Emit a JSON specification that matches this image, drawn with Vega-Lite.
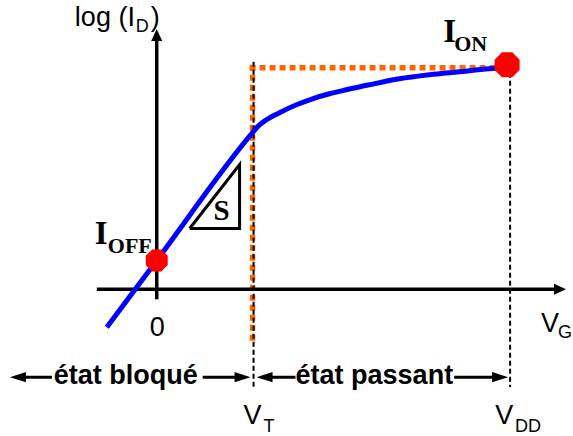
{
  "$schema": "https://vega.github.io/schema/vega-lite/v6.json",
  "autosize": {"type": "fit", "contains": "padding"},
  "width": 573,
  "height": 436,
  "padding": 0,
  "background": "white",
  "config": {"view": {"stroke": null}},
  "datasets": {
    "axes": [
      {"x": -60, "y": 0, "x2": 400, "y2": 0},
      {"x": 0, "y": -10, "x2": 0, "y2": 252}
    ],
    "axisHeads": [
      {"x": 404, "y": 0, "dir": "axis-right"},
      {"x": 0, "y": 255, "dir": "axis-up"}
    ],
    "dimLines": [
      {"x": -142, "y": -88, "x2": -105, "y2": -88},
      {"x": 46, "y": -88, "x2": 88, "y2": -88},
      {"x": 105, "y": -88, "x2": 139, "y2": -88},
      {"x": 298, "y": -88, "x2": 346, "y2": -88}
    ],
    "dimHeads": [
      {"x": -139, "y": -88, "dir": "left"},
      {"x": 86, "y": -88, "dir": "right"},
      {"x": 108, "y": -88, "dir": "left"},
      {"x": 344, "y": -88, "dir": "right"}
    ],
    "orange": [
      {"x": 96, "y": 225, "x2": 96, "y2": -55},
      {"x": 93, "y": 222, "x2": 343, "y2": 222}
    ],
    "dashed": [
      {"x": 97, "y": 228, "x2": 97, "y2": -98},
      {"x": 354, "y": 225, "x2": 354, "y2": -98}
    ],
    "curve": [
      {"x": -50, "y": -38},
      {"x": 0, "y": 29},
      {"x": 96, "y": 157},
      {"x": 102, "y": 164},
      {"x": 110, "y": 170},
      {"x": 123, "y": 177},
      {"x": 140, "y": 185},
      {"x": 156, "y": 191},
      {"x": 173, "y": 196},
      {"x": 190, "y": 200},
      {"x": 213, "y": 205},
      {"x": 243, "y": 211},
      {"x": 273, "y": 215},
      {"x": 303, "y": 218},
      {"x": 333, "y": 221},
      {"x": 351, "y": 222}
    ],
    "triangle": [
      {"i": 0, "x": 33, "y": 61},
      {"i": 1, "x": 83, "y": 125},
      {"i": 2, "x": 83, "y": 61},
      {"i": 3, "x": 33, "y": 61}
    ],
    "dots": [
      {"x": 0, "y": 29, "label": "Ioff"},
      {"x": 351, "y": 225, "label": "Ion"}
    ],
    "sansMain": [
      {"x": -82, "y": 264, "text": "log (I"},
      {"x": -6, "y": 264, "text": ")"},
      {"x": -7, "y": -47, "text": "0"},
      {"x": 385, "y": -43, "text": "V"},
      {"x": 87, "y": -135, "text": "V"},
      {"x": 339, "y": -135, "text": "V"}
    ],
    "sansSub": [
      {"x": -21, "y": 258, "text": "D"},
      {"x": 402, "y": -49, "text": "G"},
      {"x": 107, "y": -143, "text": "T"},
      {"x": 359, "y": -143, "text": "DD"}
    ],
    "serifBig": [
      {"x": -62, "y": 45, "text": "I"},
      {"x": 287, "y": 248, "text": "I"}
    ],
    "serifSub": [
      {"x": -49, "y": 36, "text": "OFF"},
      {"x": 298, "y": 239, "text": "ON"}
    ],
    "slope": [
      {"x": 65, "y": 69, "text": "S"}
    ],
    "states": [
      {"x": -31, "y": -95, "text": "état bloqué"},
      {"x": 218, "y": -95, "text": "état passant"}
    ]
  },
  "encoding": {
    "x": {"field": "x", "type": "quantitative", "scale": {"domain": [-157, 416], "nice": false, "zero": false}, "axis": null},
    "y": {"field": "y", "type": "quantitative", "scale": {"domain": [-146, 290], "nice": false, "zero": false}, "axis": null}
  },
  "layer": [
    {
      "data": {"name": "orange"},
      "mark": {"type": "rule", "color": "#FF6600", "strokeWidth": 5.5, "strokeDash": [6, 4]},
      "encoding": {"x2": {"field": "x2"}, "y2": {"field": "y2"}}
    },
    {
      "data": {"name": "dashed"},
      "mark": {"type": "rule", "color": "black", "strokeWidth": 2, "strokeDash": [5, 3]},
      "encoding": {"x2": {"field": "x2"}, "y2": {"field": "y2"}}
    },
    {
      "data": {"name": "axes"},
      "mark": {"type": "rule", "color": "black", "strokeWidth": 3.5},
      "encoding": {"x2": {"field": "x2"}, "y2": {"field": "y2"}}
    },
    {
      "data": {"name": "dimLines"},
      "mark": {"type": "rule", "color": "black", "strokeWidth": 3},
      "encoding": {"x2": {"field": "x2"}, "y2": {"field": "y2"}}
    },
    {
      "data": {"name": "axisHeads"},
      "mark": {"type": "point", "filled": true, "color": "black", "opacity": 1, "size": 144, "strokeWidth": 0},
      "encoding": {
        "shape": {"field": "dir", "type": "nominal", "legend": null,
          "scale": {"domain": ["right", "left", "axis-right", "axis-up"],
                    "range": ["M1,0L-1,-0.65L-1,0.65Z", "M-1,0L1,-0.65L1,0.65Z", "M1,0L-1,-0.92L-1,0.92Z", "M0,-1L-0.92,1L0.92,1Z"]}}
      }
    },
    {
      "data": {"name": "dimHeads"},
      "mark": {"type": "point", "filled": true, "color": "black", "opacity": 1, "size": 256, "strokeWidth": 0},
      "encoding": {
        "shape": {"field": "dir", "type": "nominal", "legend": null}
      }
    },
    {
      "data": {"name": "curve"},
      "mark": {"type": "line", "color": "#0000FF", "strokeWidth": 5, "interpolate": "monotone"},
      "encoding": {}
    },
    {
      "data": {"name": "triangle"},
      "mark": {"type": "line", "color": "black", "strokeWidth": 3, "strokeJoin": "miter"},
      "encoding": {"order": {"field": "i", "type": "quantitative"}}
    },
    {
      "data": {"name": "dots"},
      "mark": {"type": "point", "filled": true, "color": "#FF0000", "opacity": 1, "strokeWidth": 0,
        "shape": "M0.383,-0.924L0.924,-0.383L0.924,0.383L0.383,0.924L-0.383,0.924L-0.924,0.383L-0.924,-0.383L-0.383,-0.924Z"},
      "encoding": {
        "size": {"field": "label", "type": "nominal", "legend": null, "scale": {"domain": ["Ioff", "Ion"], "range": [566, 730]}}
      }
    },
    {
      "data": {"name": "sansMain"},
      "mark": {"type": "text", "font": "Liberation Sans", "fontSize": 27, "align": "left", "baseline": "alphabetic", "color": "black"},
      "encoding": {"text": {"field": "text"}}
    },
    {
      "data": {"name": "sansSub"},
      "mark": {"type": "text", "font": "Liberation Sans", "fontSize": 18, "align": "left", "baseline": "alphabetic", "color": "black"},
      "encoding": {"text": {"field": "text"}}
    },
    {
      "data": {"name": "serifBig"},
      "mark": {"type": "text", "font": "Liberation Serif", "fontWeight": "bold", "fontSize": 33, "align": "left", "baseline": "alphabetic", "color": "black"},
      "encoding": {"text": {"field": "text"}}
    },
    {
      "data": {"name": "serifSub"},
      "mark": {"type": "text", "font": "Liberation Serif", "fontWeight": "bold", "fontSize": 22, "align": "left", "baseline": "alphabetic", "color": "black"},
      "encoding": {"text": {"field": "text"}}
    },
    {
      "data": {"name": "slope"},
      "mark": {"type": "text", "font": "Liberation Serif", "fontWeight": "bold", "fontSize": 29, "align": "center", "baseline": "alphabetic", "color": "black"},
      "encoding": {"text": {"field": "text"}}
    },
    {
      "data": {"name": "states"},
      "mark": {"type": "text", "font": "Liberation Sans", "fontWeight": "bold", "fontSize": 27, "align": "center", "baseline": "alphabetic", "color": "black"},
      "encoding": {"text": {"field": "text"}}
    }
  ]
}
